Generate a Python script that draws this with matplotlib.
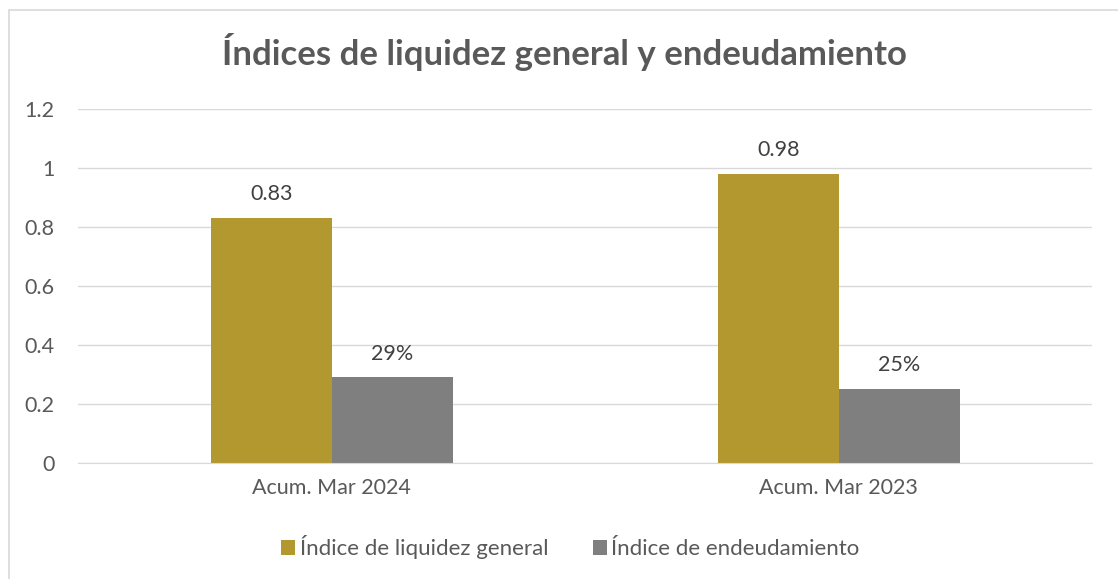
import matplotlib.pyplot as plt
from matplotlib.patches import Rectangle
import numpy as np

plt.rcParams['font.family'] = ['Lato', 'DejaVu Sans']

categories = ['Acum. Mar 2024', 'Acum. Mar 2023']
liquidez = [0.83, 0.98]
endeudamiento = [0.29, 0.25]
liquidez_labels = ['0.83', '0.98']
endeudamiento_labels = ['29%', '25%']

gold = '#B3982F'
grey = '#7F7F7F'
text_col = '#595959'

fig = plt.figure(figsize=(11.18, 5.79), dpi=100)
ax = fig.add_axes([0.070, 0.2003, 0.907, 0.6117])

x = np.arange(len(categories))
w = 0.239
b1 = ax.bar(x - w / 2, liquidez, w, color=gold, label='Índice de liquidez general')
b2 = ax.bar(x + w / 2, endeudamiento, w, color=grey, label='Índice de endeudamiento')

for bars, labels in [(b1, liquidez_labels), (b2, endeudamiento_labels)]:
    for bar, lab in zip(bars, labels):
        ax.annotate(lab, (bar.get_x() + bar.get_width() / 2, bar.get_height()),
                    xytext=(0, 10), textcoords='offset points', ha='center', va='bottom',
                    fontsize=15.5, color='#404040')

ax.set_xlim(-0.5, 1.5)
ax.set_ylim(0, 1.2)
ax.set_yticks([0, 0.2, 0.4, 0.6, 0.8, 1.0, 1.2])
ax.set_yticklabels(['0', '0.2', '0.4', '0.6', '0.8', '1', '1.2'])
ax.set_xticks(x)
ax.set_xticklabels(categories)
ax.tick_params(axis='both', length=0, labelsize=15.5, colors=text_col)
ax.tick_params(axis='y', pad=17)
ax.tick_params(axis='x', pad=11)
ax.grid(axis='y', color='#D9D9D9', linewidth=1)
ax.set_axisbelow(True)
for s in ['top', 'right', 'left']:
    ax.spines[s].set_visible(False)
ax.spines['bottom'].set_color('#D9D9D9')

fig.text(0.505, 0.91, 'Índices de liquidez general y endeudamiento', ha='center', va='center',
         fontsize=25, fontweight='bold', color=text_col)

fig.legend(loc='center', bbox_to_anchor=(0.51, 0.055), ncol=2, frameon=False,
           fontsize=16, labelcolor=text_col, handlelength=0.65, handleheight=0.65,
           handletextpad=0.2, columnspacing=2.0)

fig.patches.append(Rectangle((0.008, -0.1), 1.2, 1.083, transform=fig.transFigure,
                             fill=False, edgecolor='#D9D9D9', linewidth=1.2))

fig.savefig('out.png', dpi=100)
